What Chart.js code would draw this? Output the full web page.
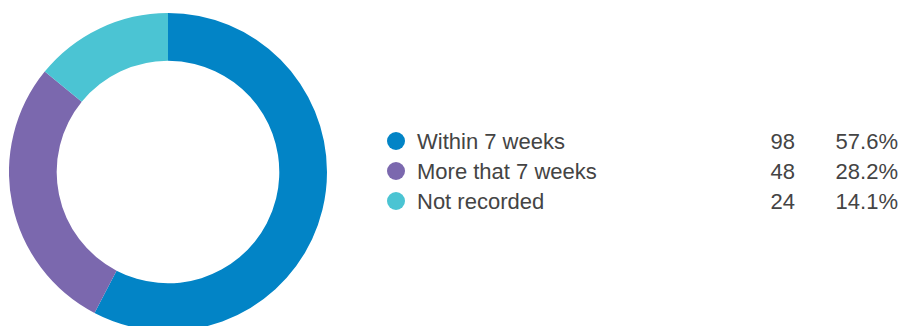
<!DOCTYPE html>
<html>
<head>
<meta charset="utf-8">
<script src="https://cdn.jsdelivr.net/npm/chart.js@4.4.0/dist/chart.umd.min.js"></script>
<style>
  body { margin: 0; background: #fff; width: 903px; height: 326px; overflow: hidden; position: relative;
         font-family: "Liberation Sans", Arial, Helvetica, sans-serif; }
  #wrap { position: absolute; left: 9px; top: 13px; width: 318px; height: 318px; }
  #legenda { position: absolute; left: 386px; top: 126px; color: #444; font-size: 22px; }
  .linha { position: relative; height: 30px; width: 512px; }
  .bola { position: absolute; left: 1px; top: 6px; width: 18px; height: 18px; border-radius: 50%; }
  .nome { position: absolute; left: 31px; top: 3px; white-space: nowrap; }
  .num { position: absolute; right: 103px; top: 3px; }
  .pct { position: absolute; right: 0; top: 3px; }
</style>
</head>
<body>
<div id="wrap"><canvas id="grafico" width="318" height="318"></canvas></div>
<div id="legenda"></div>
<script>
const categorias = ['Within 7 weeks', 'More that 7 weeks', 'Not recorded']
const valores = [98, 48, 24]
const cores = ['#0284c6', '#7b68ae', '#4bc4d3']

const total = valores.reduce((a, b) => a + b, 0)

// legenda feita em html, do lado direito
let legenda = document.getElementById('legenda')
categorias.forEach((nome, i) => {
    let pct = (valores[i] / total * 100).toFixed(1) + '%'
    legenda.innerHTML +=
        '<div class="linha">' +
        '<span class="bola" style="background:' + cores[i] + '"></span>' +
        '<span class="nome">' + nome + '</span>' +
        '<span class="num">' + valores[i] + '</span>' +
        '<span class="pct">' + pct + '</span>' +
        '</div>'
})

var ctx = document.getElementById('grafico')
var chartGraph = new Chart(ctx, {
    type: 'doughnut',
    data: {
        labels: categorias,
        datasets: [{
            data: valores,
            backgroundColor: cores,
            borderWidth: 0
        }]
    },
    options: {
        responsive: false,
        animation: false,
        cutout: '70%',
        layout: { padding: 0 },
        plugins: {
            legend: { display: false },
            tooltip: { enabled: false }
        }
    }
})
</script>
</body>
</html>
